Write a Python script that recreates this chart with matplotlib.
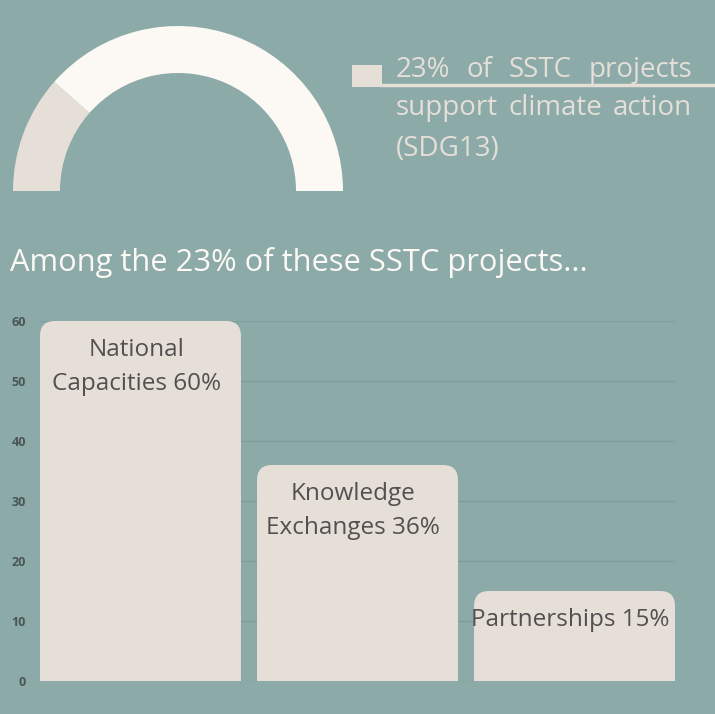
import matplotlib
matplotlib.use("Agg")
import matplotlib.pyplot as plt
from matplotlib.path import Path
from matplotlib.patches import PathPatch, Rectangle
from matplotlib.lines import Line2D

# ---- data ----
donut_values = [23, 77]
categories = ["National\nCapacities 60%", "Knowledge\nExchanges 36%", "Partnerships 15%"]
values = [60, 36, 15]
yticks = [0, 10, 20, 30, 40, 50, 60]
legend_lines = ["23% of SSTC projects", "support climate action", "(SDG13)"]
title = "Among the 23% of these SSTC projects..."

BG = "#8BAAA8"
BAR = "#E5DFD8"
WHITE = "#FCF9F5"
GRID = "#7E9D9B"
DARK = "#545050"
TICK = "#4A5556"
FONT = "Open Sans"

W, H = 715, 714
fig = plt.figure(figsize=(W / 100, H / 100), dpi=100, facecolor=BG)

def fx(px):
    return px / W

def fy(py):
    return 1 - py / H

# ---- half donut ----
cx, cy, R, r = 178, 191, 165, 118
axd = fig.add_axes([fx(cx - R), fy(cy + R), 2 * R / W, 2 * R / H])
axd.set_facecolor("none")
total = sum(donut_values)
wedges, _ = axd.pie(donut_values + [total], startangle=180, counterclock=False,
                    colors=[BAR, WHITE, "none"], radius=1,
                    wedgeprops=dict(width=(R - r) / R, linewidth=0))
axd.set_xlim(-1, 1)
axd.set_ylim(-1, 1)
axd.set_aspect("auto")
axd.axis("off")

# ---- legend ----
fig.patches.append(Rectangle((fx(352), fy(87)), 30 / W, 22 / H, transform=fig.transFigure,
                             facecolor=BAR, edgecolor="none"))
fig.lines.append(Line2D([fx(381), fx(715)], [fy(85), fy(85)], transform=fig.transFigure,
                        color=BAR, linewidth=2.5))

renderer = fig.canvas.get_renderer()
lx0, lx1 = 396, 692
line_y = [70, 108, 149]
lfs = 20
for i, line in enumerate(legend_lines):
    words = line.split(" ")
    if i == len(legend_lines) - 1:
        fig.text(fx(lx0), fy(line_y[i]), line, fontsize=lfs, family=FONT, color=BAR,
                 ha="left", va="center")
        continue
    objs = [fig.text(0, fy(line_y[i]), w_, fontsize=lfs, family=FONT, color=BAR,
                     ha="left", va="center") for w_ in words]
    widths = [o.get_window_extent(renderer).width for o in objs]
    gap = (lx1 - lx0 - sum(widths)) / (len(words) - 1)
    x = lx0
    for o, wdt in zip(objs, widths):
        o.set_x(fx(x))
        x += wdt + gap

# ---- title ----
fig.text(fx(10), fy(262), title, fontsize=22.2, family=FONT, color=WHITE,
         ha="left", va="center")

# ---- bar chart ----
ax = fig.add_axes([fx(40), fy(681), (675 - 40) / W, 360 / H])
ax.set_facecolor("none")
bw = 0.926
x_pos = list(range(len(values)))
ax.set_xlim(-bw / 2, len(values) - 1 + bw / 2)
ax.set_ylim(0, 60)
for s in ax.spines.values():
    s.set_visible(False)
ax.set_yticks(yticks)
ax.set_yticklabels([str(t) for t in yticks], fontsize=9, fontweight="bold", color=TICK, family=FONT)
ax.set_xticks([])
ax.tick_params(axis="y", length=0, pad=10)
ax.grid(axis="y", color=GRID, linewidth=1)
ax.set_axisbelow(True)

ax_w_px = (675 - 40)
ax_h_px = 360
xr = ax.get_xlim()[1] - ax.get_xlim()[0]
yr = ax.get_ylim()[1] - ax.get_ylim()[0]
rad_px = 15
rx = rad_px * xr / ax_w_px
ry = rad_px * yr / ax_h_px

for xc, v, lab in zip(x_pos, values, categories):
    x0, x1 = xc - bw / 2, xc + bw / 2
    verts = [(x0, 0), (x0, v - ry), (x0, v), (x0 + rx, v), (x1 - rx, v), (x1, v), (x1, v - ry),
             (x1, 0), (x0, 0)]
    codes = [Path.MOVETO, Path.LINETO, Path.CURVE3, Path.CURVE3, Path.LINETO, Path.CURVE3,
             Path.CURVE3, Path.LINETO, Path.CLOSEPOLY]
    ax.add_patch(PathPatch(Path(verts, codes), facecolor=BAR, edgecolor="none", clip_on=False, zorder=2))
    ax.text(xc - 0.02, v - 2.75, lab, ha="center", va="top", fontsize=17.5, family=FONT,
            color=DARK, linespacing=1.6, zorder=3)

fig.savefig("out.png", dpi=100, facecolor=BG)
